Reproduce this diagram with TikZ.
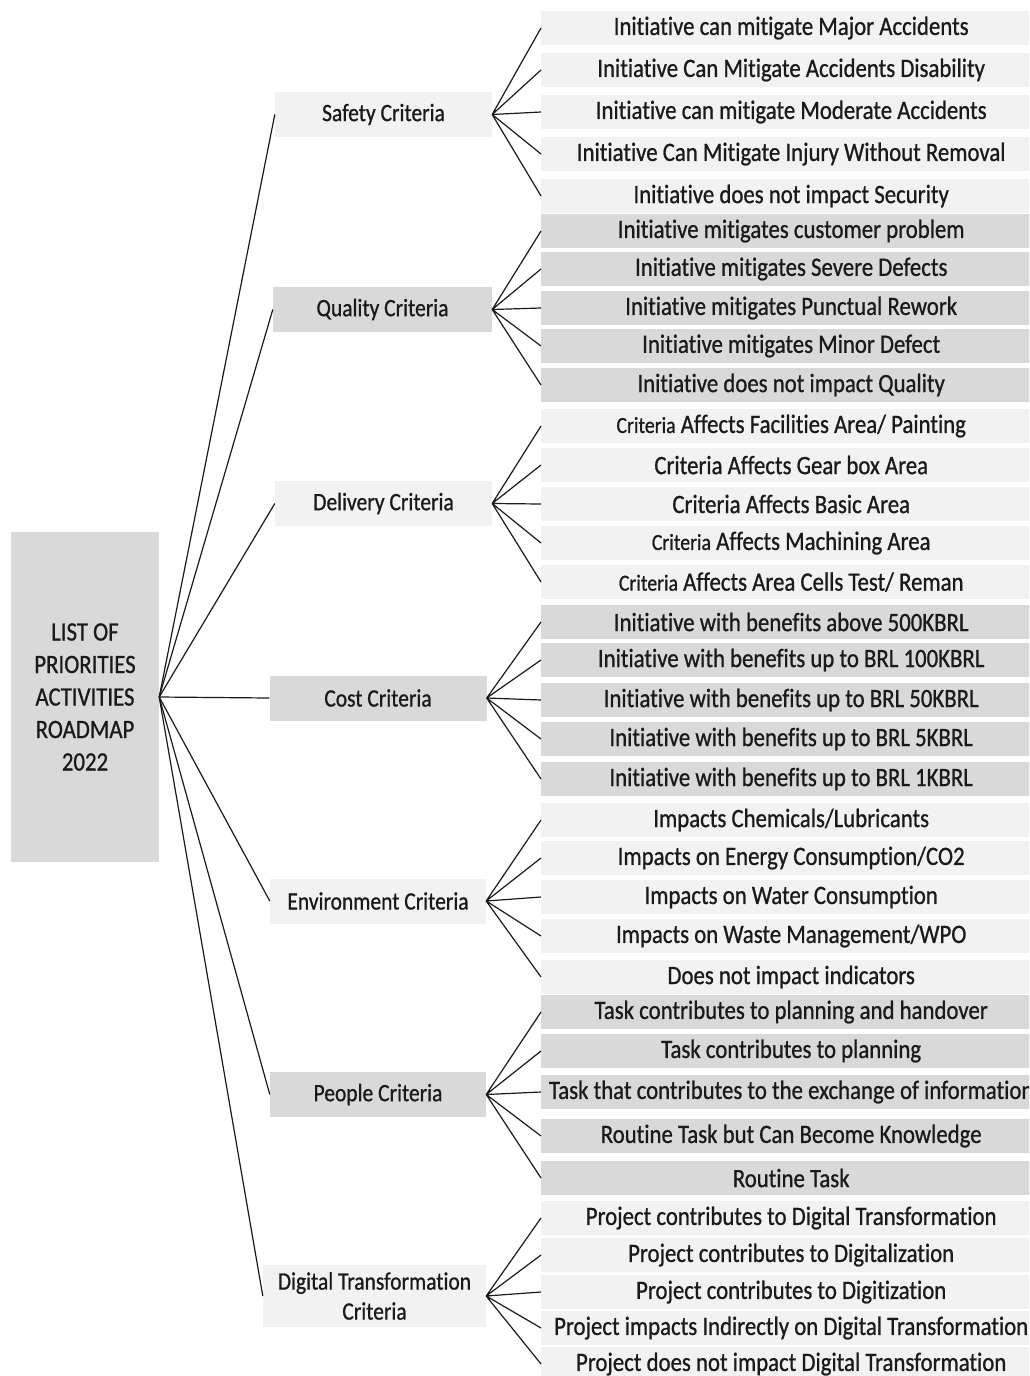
\documentclass[tikz,border=0pt]{standalone}
\usepackage{fontspec}
\setmainfont{Carlito}[FakeStretch=0.86,FakeBold=0.8,Ligatures=CommonOff]
\usepackage{tikz}
\definecolor{boxlight}{HTML}{F2F2F2}
\definecolor{boxdark}{HTML}{D9D9D9}
\definecolor{inkgray}{HTML}{1A1A1A}
\newcommand{\smallcrit}{{\fontsize{23}{30}\selectfont Criteria}}

\begin{document}
\begin{tikzpicture}[x=1pt,y=-1pt,
  rootbox/.style={fill=boxdark,minimum width=148pt,minimum height=330pt,inner sep=0pt,align=center,text=inkgray,font=\fontsize{26.5}{32.5}\selectfont},
  catbox/.style={minimum width=217pt,minimum height=45pt,inner sep=0pt,align=center,text=inkgray,font=\fontsize{25}{30}\selectfont},
  leafbox/.style={anchor=west,minimum width=500pt,minimum height=34pt,inner sep=0pt,text=inkgray,font=\fontsize{26.5}{30}\selectfont},
  link/.style={draw=inkgray,line width=1.2pt}]
\clip (0,0) rectangle (1029,1376);
\fill[white] (0,0) rectangle (1029,1376);

\node (root) at (85,697) [rootbox] {LIST OF\\PRIORITIES\\ACTIVITIES\\ROADMAP\\2022};

\node (safety) at (383.5,114.5) [catbox,fill=boxlight] {Safety Criteria};
\node (quality) at (382.5,309.5) [catbox,fill=boxdark,minimum width=219pt] {Quality Criteria};
\node (delivery) at (383.5,503.5) [catbox,fill=boxlight] {Delivery Criteria};
\node (cost) at (378,698) [catbox,fill=boxdark] {Cost Criteria};
\node (environment) at (378,901) [catbox,fill=boxlight,minimum width=216pt] {Environment Criteria};
\node (people) at (378,1094.5) [catbox,fill=boxdark,minimum width=216pt] {People Criteria};
\node (digital) at (374.5,1296) [catbox,fill=boxlight,minimum width=223pt,minimum height=62pt] {Digital Transformation\\Criteria};

\node (s1) at (541,28) [leafbox,fill=boxlight] {Initiative can mitigate Major Accidents};
\node (s2) at (541,70) [leafbox,fill=boxlight] {Initiative Can Mitigate Accidents Disability};
\node (s3) at (541,112) [leafbox,fill=boxlight] {Initiative can mitigate Moderate Accidents};
\node (s4) at (541,154) [leafbox,fill=boxlight] {Initiative Can Mitigate Injury Without Removal};
\node (s5) at (541,196) [leafbox,fill=boxlight] {Initiative does not impact Security};

\node (q1) at (541,231) [leafbox,fill=boxdark] {Initiative mitigates customer problem};
\node (q2) at (541,269) [leafbox,fill=boxdark] {Initiative mitigates Severe Defects};
\node (q3) at (541,308) [leafbox,fill=boxdark] {Initiative mitigates Punctual Rework};
\node (q4) at (541,346) [leafbox,fill=boxdark] {Initiative mitigates Minor Defect};
\node (q5) at (541,385) [leafbox,fill=boxdark] {Initiative does not impact Quality};

\node (d1) at (541,426) [leafbox,fill=boxlight] {\smallcrit{} Affects Facilities Area/ Painting};
\node (d2) at (541,465) [leafbox,fill=boxlight] {Criteria Affects Gear box Area};
\node (d3) at (541,504) [leafbox,fill=boxlight] {Criteria Affects Basic Area};
\node (d4) at (541,543) [leafbox,fill=boxlight] {\smallcrit{} Affects Machining Area};
\node (d5) at (541,582) [leafbox,fill=boxlight] {\smallcrit{} Affects Area Cells Test/ Reman};

\node (c1) at (541,622) [leafbox,fill=boxdark] {Initiative with benefits above 500KBRL};
\node (c2) at (541,660) [leafbox,fill=boxdark] {Initiative with benefits up to BRL 100KBRL};
\node (c3) at (541,700) [leafbox,fill=boxdark] {Initiative with benefits up to BRL 50KBRL};
\node (c4) at (541,739) [leafbox,fill=boxdark] {Initiative with benefits up to BRL 5KBRL};
\node (c5) at (541,779) [leafbox,fill=boxdark] {Initiative with benefits up to BRL 1KBRL};

\node (e1) at (541,820) [leafbox,fill=boxlight] {Impacts Chemicals/Lubricants};
\node (e2) at (541,858) [leafbox,fill=boxlight] {Impacts on Energy Consumption/CO2};
\node (e3) at (541,897) [leafbox,fill=boxlight] {Impacts on Water Consumption};
\node (e4) at (541,936) [leafbox,fill=boxlight] {Impacts on Waste Management/WPO};
\node (e5) at (541,977) [leafbox,fill=boxlight] {Does not impact indicators};

\node (p1) at (541,1012) [leafbox,fill=boxdark] {Task contributes to planning and handover};
\node (p2) at (541,1051) [leafbox,fill=boxdark] {Task contributes to planning};
\node (p3) at (541,1092) [leafbox,fill=boxdark] {Task that contributes to the exchange of information};
\node (p4) at (541,1136) [leafbox,fill=boxdark] {Routine Task but Can Become Knowledge};
\node (p5) at (541,1178) [leafbox,fill=boxdark] {Routine Task};

\node (t1) at (541,1218) [leafbox,fill=boxlight] {Project contributes to Digital Transformation};
\node (t2) at (541,1255) [leafbox,fill=boxlight] {Project contributes to Digitalization};
\node (t3) at (541,1292) [leafbox,fill=boxlight] {Project contributes to Digitization};
\node (t4) at (541,1328) [leafbox,fill=boxlight] {Project impacts Indirectly on Digital Transformation};
\node (t5) at (541,1364) [leafbox,fill=boxlight] {Project does not impact Digital Transformation};

\draw [link] (root.east) -- (safety.west);
\draw [link] (root.east) -- (quality.west);
\draw [link] (root.east) -- (delivery.west);
\draw [link] (root.east) -- (cost.west);
\draw [link] (root.east) -- (environment.west);
\draw [link] (root.east) -- (people.west);
\draw [link] (root.east) -- (digital.west);

\draw [link] (safety.east) -- (s1.west) (safety.east) -- (s2.west) (safety.east) -- (s3.west) (safety.east) -- (s4.west) (safety.east) -- (s5.west);
\draw [link] (quality.east) -- (q1.west) (quality.east) -- (q2.west) (quality.east) -- (q3.west) (quality.east) -- (q4.west) (quality.east) -- (q5.west);
\draw [link] (delivery.east) -- (d1.west) (delivery.east) -- (d2.west) (delivery.east) -- (d3.west) (delivery.east) -- (d4.west) (delivery.east) -- (d5.west);
\draw [link] (cost.east) -- (c1.west) (cost.east) -- (c2.west) (cost.east) -- (c3.west) (cost.east) -- (c4.west) (cost.east) -- (c5.west);
\draw [link] (environment.east) -- (e1.west) (environment.east) -- (e2.west) (environment.east) -- (e3.west) (environment.east) -- (e4.west) (environment.east) -- (e5.west);
\draw [link] (people.east) -- (p1.west) (people.east) -- (p2.west) (people.east) -- (p3.west) (people.east) -- (p4.west) (people.east) -- (p5.west);
\draw [link] (digital.east) -- (t1.west) (digital.east) -- (t2.west) (digital.east) -- (t3.west) (digital.east) -- (t4.west) (digital.east) -- (t5.west);
\end{tikzpicture}
\end{document}
